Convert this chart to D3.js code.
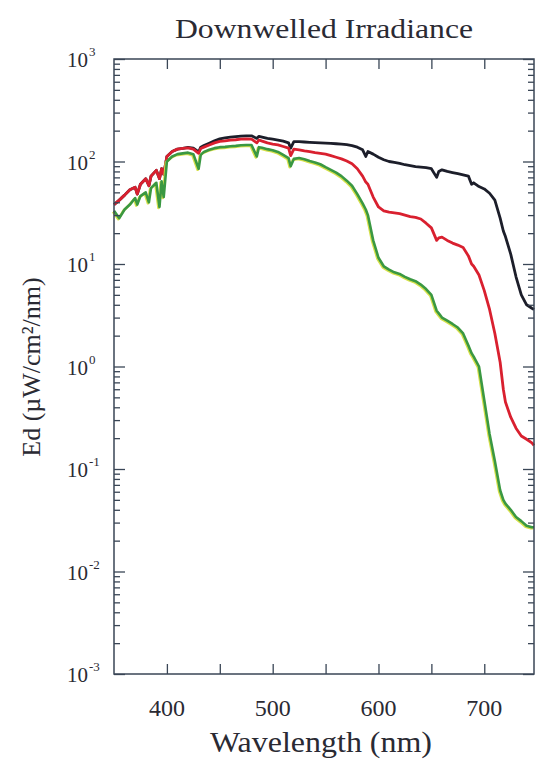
<!DOCTYPE html>
<html>
<head>
<meta charset="utf-8">
<script src="https://cdn.jsdelivr.net/npm/d3@7"></script>
<style>
  body { margin: 0; background: #fff; }
  svg { display: block; }
  text { font-family: "Liberation Serif", "Times New Roman", serif; fill: #2a2a33; }
</style>
</head>
<body>
<script>
// wavelength (nm)
var wavelength = [350,355,360,365,370,372,375,380,383,385,390,393,395,397,400,405,410,415,420,425,
  430,432,435,440,445,450,455,460,465,470,475,480,485,487,490,495,500,505,510,515,
  517,520,525,530,535,540,545,550,555,560,565,570,575,580,585,588,590,595,600,605,
  610,615,620,625,630,635,640,645,650,655,657,660,665,670,675,680,685,688,690,695,
  700,705,710,715,718,720,725,730,735,740,745,747]

// Ed, uW/cm2/nm
var edBlack = [38,42,47,53,56,48,60,68,58,72,82,68,85,75,112,125,132,134,137,135,
  124,138,143,151,159,166,170,173,175,177,178,178,168,176,173,168,165,162,158,152,
  135,156,156,155,154,153,152,151,150,149,148,146,143,138,130,112,125,118,110,104,
  100,98,96,93,91,89,88,87,85,70,80,83,80,78,76,74,72,60,62,57,
  54,49,42,28,21,18.5,12.5,7.5,5.0,4.0,3.7,3.6]

var edRed = [38,42,47,53,56,48,60,68,58,72,82,68,85,75,112,125,132,134,136,132,
  120,134,138,145,152,157,159,162,163,165,166,165,152,162,158,152,148,145,140,135,
  114,132,130,127,125,122,120,118,114,110,106,101,95,85,72,63,60,45,36,33,
  32,31.5,31,30,29,28.5,27.5,25,22.5,17,18,18.3,17,16,15.3,14.5,12,10,9.5,7.8,
  5.5,3.6,2.1,1.1,0.6,0.45,0.32,0.25,0.21,0.195,0.18,0.17]

var edGreen = [33,28,34,38,44,38,46,50,40,55,62,36,64,45,100,112,118,120,122,118,
  85,116,124,130,135,138,139,141,142,144,145,145,112,138,136,132,129,124,116,108,
  90,106,108,105,101,98,94,88,83,78,72,65,58,48,39,34,30,17,11.5,9.5,
  8.8,8.3,8.0,7.5,7.1,6.8,6.3,5.7,5.0,3.5,3.3,3.0,2.8,2.6,2.4,2.1,1.6,1.35,1.25,1.0,
  0.47,0.22,0.12,0.062,0.05,0.046,0.04,0.034,0.031,0.028,0.027,0.027]

var xTicks = [400,450,500,550,600,650,700]
var xLabels = [400,500,600,700]
var decades = [-3,-2,-1,0,1,2,3]

var W = 540, H = 760
var margin = {left: 114, right: 6, top: 59, bottom: 86}

var svg = d3.select('body').append('svg')
  .attr('width', W).attr('height', H)

var x = d3.scaleLinear().domain([350, 747]).range([margin.left, W - margin.right])
var y = d3.scaleLog().domain([1e-3, 1e3]).range([H - margin.bottom, margin.top])

var minorY = y.ticks().filter(function (v) {
  return Math.abs(Math.log10(v) - Math.round(Math.log10(v))) > 1e-6
})
var majorY = decades.map(function (d) { return Math.pow(10, d) })

var axisColor = '#3a4656'

function styleAxis(g) {
  g.select('.domain').remove()
  g.selectAll('.tick line').attr('stroke', axisColor).attr('stroke-width', 1.3)
}

// curves
var line = d3.line()
  .x(function (d, i) { return x(wavelength[i]) })
  .y(function (d) { return y(d) })

var plot = svg.append('g')
plot.append('path').datum(edBlack)
  .attr('d', line).attr('fill', 'none')
  .attr('stroke', '#1c1e2a').attr('stroke-width', 2.8).attr('stroke-linejoin', 'round')
plot.append('path').datum(edRed)
  .attr('d', line).attr('fill', 'none')
  .attr('stroke', '#d9202f').attr('stroke-width', 2.8).attr('stroke-linejoin', 'round')
plot.append('path').datum(edGreen)
  .attr('d', line).attr('fill', 'none')
  .attr('transform', 'translate(-1,1)')
  .attr('stroke', '#d6e04a').attr('stroke-width', 2.6).attr('stroke-linejoin', 'round')
plot.append('path').datum(edGreen)
  .attr('d', line).attr('fill', 'none')
  .attr('stroke', '#3a9842').attr('stroke-width', 2.6).attr('stroke-linejoin', 'round')

// ticks, all pointing inward
var bottomAxis = svg.append('g').attr('transform', 'translate(0,' + (H - margin.bottom) + ')')
  .call(d3.axisBottom(x).tickValues(xTicks).tickSize(-10).tickFormat(''))
styleAxis(bottomAxis)
var topAxis = svg.append('g').attr('transform', 'translate(0,' + margin.top + ')')
  .call(d3.axisTop(x).tickValues(xTicks).tickSize(-10).tickFormat(''))
styleAxis(topAxis)

;[['left', margin.left], ['right', W - margin.right]].forEach(function (s) {
  var mk = s[0] == 'left' ? d3.axisLeft : d3.axisRight
  var gMinor = svg.append('g').attr('transform', 'translate(' + s[1] + ',0)')
    .call(mk(y).tickValues(minorY).tickSize(-6).tickFormat(''))
  styleAxis(gMinor)
  var gMajor = svg.append('g').attr('transform', 'translate(' + s[1] + ',0)')
    .call(mk(y).tickValues(majorY).tickSize(-11).tickFormat(''))
  styleAxis(gMajor)
})

// frame
svg.append('rect')
  .attr('x', margin.left).attr('y', margin.top)
  .attr('width', W - margin.right - margin.left)
  .attr('height', H - margin.bottom - margin.top)
  .attr('fill', 'none').attr('stroke', axisColor).attr('stroke-width', 1.5)

// y tick labels 10^n
var yLab = svg.append('g')
decades.forEach(function (d) {
  yLab.append('text')
    .attr('x', 88).attr('y', y(Math.pow(10, d)) + 8)
    .attr('text-anchor', 'end')
    .style('font-size', '21px')
    .text('10')
  yLab.append('text')
    .attr('x', 89).attr('y', y(Math.pow(10, d)) - 3)
    .style('font-size', '13px')
    .text(d < 0 ? '-' + (-d) : d)
})

// x tick labels
svg.append('g').selectAll('text').data(xLabels).enter().append('text')
  .attr('x', function (d) { return x(d) })
  .attr('y', 716)
  .attr('text-anchor', 'middle')
  .style('font-size', '24px')
  .text(function (d) { return d })

svg.append('text')
  .attr('x', 324).attr('y', 38)
  .attr('text-anchor', 'middle')
  .attr('textLength', 298).attr('lengthAdjust', 'spacingAndGlyphs')
  .style('font-size', '27px')
  .text('Downwelled Irradiance')

svg.append('text')
  .attr('x', 321).attr('y', 752)
  .attr('text-anchor', 'middle')
  .attr('textLength', 222).attr('lengthAdjust', 'spacingAndGlyphs')
  .style('font-size', '29px')
  .text('Wavelength (nm)')

svg.append('text')
  .attr('transform', 'translate(40,367) rotate(-90)')
  .attr('text-anchor', 'middle')
  .style('font-size', '26px')
  .text('Ed  (µW/cm²/nm)')
</script>
</body>
</html>
